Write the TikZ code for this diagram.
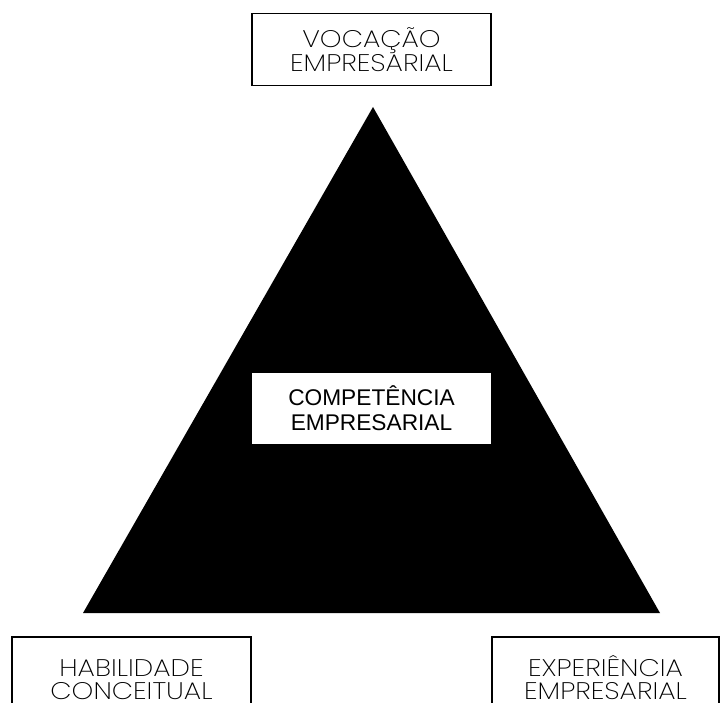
\documentclass[tikz,border=0pt]{standalone}
\usepackage{fontspec}
\setmainfont{Liberation Sans}
\newfontfamily\thinfont{Poppins ExtraLight}[FakeStretch=1.15]

\begin{document}
\begin{tikzpicture}[
  x=1pt, y=1pt,
  outerbox/.style={draw=black, line width=1.2pt, fill=white, align=center,
    font=\thinfont\fontsize{24}{23.5}\selectfont, minimum width=239, inner sep=0pt},
  centerbox/.style={fill=white, align=center,
    font=\fontsize{22.7}{25}\selectfont, minimum width=239, minimum height=71, inner sep=0pt},
]
\useasboundingbox (0,0) rectangle (720,702);

% ===== pyramid =====
\fill[black] (83,89) -- (373,595) -- (660,89) -- cycle;

% ===== boxes =====
\node[centerbox] (competencia) at (371.5,293.5) {COMPETÊNCIA\\EMPRESARIAL};
\node[outerbox, minimum height=72] (vocacao) at (371.5,652.5) {VOCAÇÃO\\EMPRESARIAL};
% bottom boxes run off the lower edge
\node[outerbox, minimum height=81] (habilidade) at (131.5,24.5) {\vphantom{Ê}HABILIDADE\\CONCEITUAL};
\node[outerbox, minimum width=227, minimum height=81] (experiencia) at (605.5,24.5) {EXPERIÊNCIA\\EMPRESARIAL};

\end{tikzpicture}
\end{document}
